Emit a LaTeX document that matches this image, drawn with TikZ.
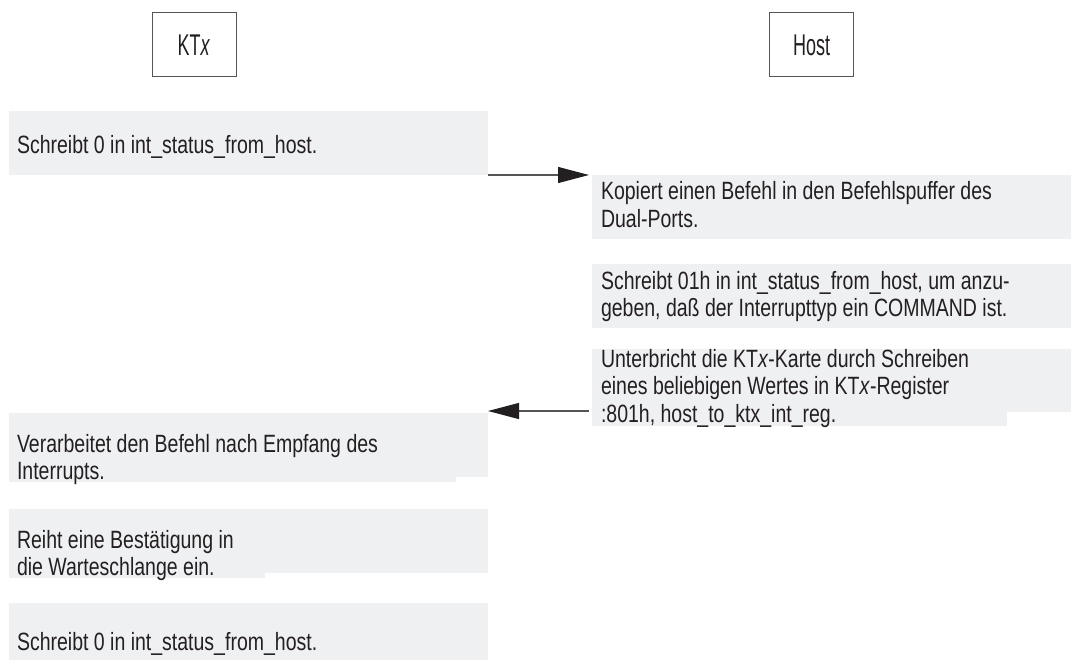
\documentclass[tikz,border=0pt]{standalone}
\usepackage{fontspec}
\setmainfont{Liberation Sans}[FakeStretch=0.78]
\newfontfamily\headfont{Liberation Sans}[FakeStretch=0.6]
\usetikzlibrary{arrows.meta}
\definecolor{boxfill}{HTML}{EFF0F2}
\definecolor{ink}{HTML}{231F20}
\definecolor{framec}{HTML}{555555}

\begin{document}
\begin{tikzpicture}[x=1pt,y=-1pt,
  every node/.style={inner sep=0pt, outer sep=0pt},
  panel/.style={fill=boxfill, draw=none, anchor=north west,
                minimum width=479pt, minimum height=64pt},
  strip/.style={fill=boxfill, draw=none},
  % text blocks are placed by the baseline of their last line
  lbl/.style={anchor=base west, text=ink, align=left,
              font=\fontsize{25}{27.5}\selectfont},
  head/.style={draw=framec, line width=1pt, minimum width=84pt,
               minimum height=64pt, text=ink,
               font=\headfont\fontsize{30}{34}\selectfont},
  msg/.style={draw=framec, line width=1.2pt,
              -{Triangle[length=31pt,width=16pt,color=ink]}}
]
\useasboundingbox (0,0) rectangle (1075,660);

% column heads
\node[head] (kt)   at (194,45)   {KT\textit{x}};
\node[head] (host) at (811.5,45) {Host};

% KTx column
\node[panel] (b1) at (9,111) {};
\node[lbl] (t1) at (17,154) {Schreibt 0 in int\_status\_from\_host.};

\node[panel] (b5) at (9,413) {};
\fill[strip] (9,477) rectangle (456,482);
\node[lbl] (t5) at (17,479.5) {Verarbeitet den Befehl nach Empfang des\\Interrupts.};

\node[panel] (b6) at (9,509) {};
\fill[strip] (9,573) rectangle (265,578);
\node[lbl] (t6) at (17,575.5) {Reiht eine Bestätigung in\\die Warteschlange ein.};

\node[panel] (b7) at (9,603) {};
\node[lbl] (t7) at (17,650) {Schreibt 0 in int\_status\_from\_host.};

% Host column
\node[panel] (b2) at (592,175) {};
\node[lbl] (t2) at (601,227.5) {Kopiert einen Befehl in den Befehlspuffer des\\Dual-Ports.};

\node[panel] (b3) at (592,264) {};
\node[lbl] (t3) at (601,316.5) {Schreibt 01h in int\_status\_from\_host, um anzu-\\geben, daß der Interrupttyp ein COMMAND ist.};

\node[panel, minimum height=63pt] (b4) at (592,349) {};
\fill[strip] (592,412) rectangle (1007,426);
\node[lbl] (t4) at (601,422) {Unterbricht die KT\textit{x}-Karte durch Schreiben\\eines beliebigen Wertes in KT\textit{x}-Register\\:801h, host\_to\_ktx\_int\_reg.};

% messages
\draw[msg] (b1.south east) -- ([xshift=-3pt]b2.north west);
\draw[msg] ([xshift=-3pt,yshift=1pt]b4.south west) -- ([yshift=2pt]b5.north east);
\end{tikzpicture}
\end{document}
